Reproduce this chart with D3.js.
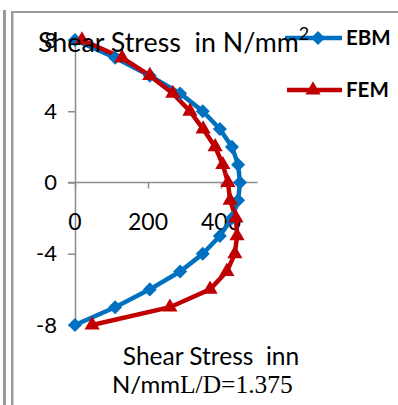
<!DOCTYPE html>
<html><head><meta charset="utf-8">
<script src="https://cdn.jsdelivr.net/npm/d3@7"></script>
<style>body{margin:0;background:#fff}svg{display:block}</style>
</head><body>
<script>
const depths = [8,7,6,5,4,3,2,1,0,-1,-2,-3,-4,-5,-6,-7,-8];
const ebm = [0,110,205,288,350,397,430,447,452,447,430,397,350,288,205,110,0];
const fem = [19,129,205,268,315,351,384,405,419,425,441,444,438,416,370,260,47];
const xTicks = [0,200,400];
const yTicks = [8,4,0,-4,-8];
const seriesNames = ["EBM","FEM"];

const W=398,H=405;
const svg=d3.select("body").append("svg").attr("width",W).attr("height",H);
const sans="Lato, 'Liberation Sans', sans-serif";

// borders
svg.append("rect").attr("x",3).attr("y",10).attr("width",3).attr("height",H).attr("fill","#9a9a9a");
svg.append("rect").attr("x",11).attr("y",11).attr("width",2.5).attr("height",H).attr("fill","#9a9a9a");
svg.append("rect").attr("x",11).attr("y",11).attr("width",W).attr("height",2).attr("fill","#9a9a9a");

const x=d3.scaleLinear().domain([0,500]).range([75,257.5]);
const y=d3.scaleLinear().domain([-8,8]).range([325,40]);

// axes
const xAxis=svg.append("g").attr("transform",`translate(0,${y(0)})`)
  .call(d3.axisBottom(x).tickValues(xTicks).tickSize(6).tickFormat(""));
xAxis.select(".domain").attr("d",`M68,0H${x(500)}`);
const yAxis=svg.append("g").attr("transform",`translate(${x(0)},0)`)
  .call(d3.axisLeft(y).tickValues(yTicks).tickSize(7).tickFormat(""));
svg.selectAll(".domain,.tick line").attr("stroke","#8c8c8c").attr("stroke-width",1.5);

// tick labels
svg.append("g").selectAll("text").data(yTicks).join("text")
  .attr("x",57).attr("y",d=>y(d)).attr("dy","0.35em").attr("text-anchor","end")
  .attr("font-family",sans).attr("font-size",22).text(d=>d);
svg.append("g").selectAll("text").data(xTicks).join("text")
  .attr("x",d=>x(d)).attr("y",222).attr("dy","0.35em").attr("text-anchor","middle")
  .attr("font-family",sans).attr("font-size",23).text(d=>d);

// series
const line=d3.line().x(d=>x(d[0])).y(d=>y(d[1]));
const ebmPts=ebm.map((v,i)=>[v,depths[i]]);
const femPts=fem.map((v,i)=>[v,depths[i]]);
const blue="#0070C0", red="#C00000";
svg.append("path").attr("d",line(ebmPts)).attr("fill","none").attr("stroke",blue).attr("stroke-width",4.5);
svg.append("path").attr("d",line(femPts)).attr("fill","none").attr("stroke",red).attr("stroke-width",4.5);
const diamond=d3.symbol().type(d3.symbolDiamond2).size(125);
const tri=d3.symbol().type(d3.symbolTriangle).size(100);
svg.append("g").selectAll("path").data(ebmPts).join("path")
  .attr("d",diamond).attr("transform",d=>`translate(${x(d[0])},${y(d[1])})`).attr("fill",blue);
svg.append("g").selectAll("path").data(femPts).join("path")
  .attr("d",tri).attr("transform",d=>`translate(${x(d[0])},${y(d[1])})`).attr("fill",red);

// legend
const leg=[{n:seriesNames[0],c:blue,y:38,s:diamond,x1:285,mx:318},{n:seriesNames[1],c:red,y:90,s:tri,x1:287,mx:313}];
leg.forEach(l=>{
  svg.append("line").attr("x1",l.x1).attr("x2",342).attr("y1",l.y).attr("y2",l.y).attr("stroke",l.c).attr("stroke-width",4.5);
  svg.append("path").attr("d",l.s).attr("transform",`translate(${l.mx},${l.y})`).attr("fill",l.c);
  svg.append("text").attr("x",346).attr("y",l.y).attr("dy","0.36em").attr("font-family",sans)
    .attr("font-weight","bold").attr("font-size",20.5).text(l.n);
});

// title (drawn over legend line, as in reference)
const t=svg.append("text").attr("x",38).attr("y",52).attr("font-family",sans).attr("font-size",26.8).attr("fill","#000");
t.append("tspan").text("Shear Stress\u00a0\u00a0in N/mm");
t.append("tspan").attr("font-size",18).attr("dy",-12).text("2");

// x axis title
svg.append("text").attr("x",211).attr("y",365).attr("text-anchor","middle").attr("font-family",sans)
  .attr("font-size",24.5).text("Shear Stress\u00a0\u00a0inn");
const t2=svg.append("text").attr("x",112).attr("y",393).attr("font-size",24);
t2.append("tspan").attr("font-family",sans).text("N/mm");
t2.append("tspan").attr("font-family","'Liberation Serif', serif").attr("font-size",25.5).text("L/D=1.375");
</script>
</body></html>
